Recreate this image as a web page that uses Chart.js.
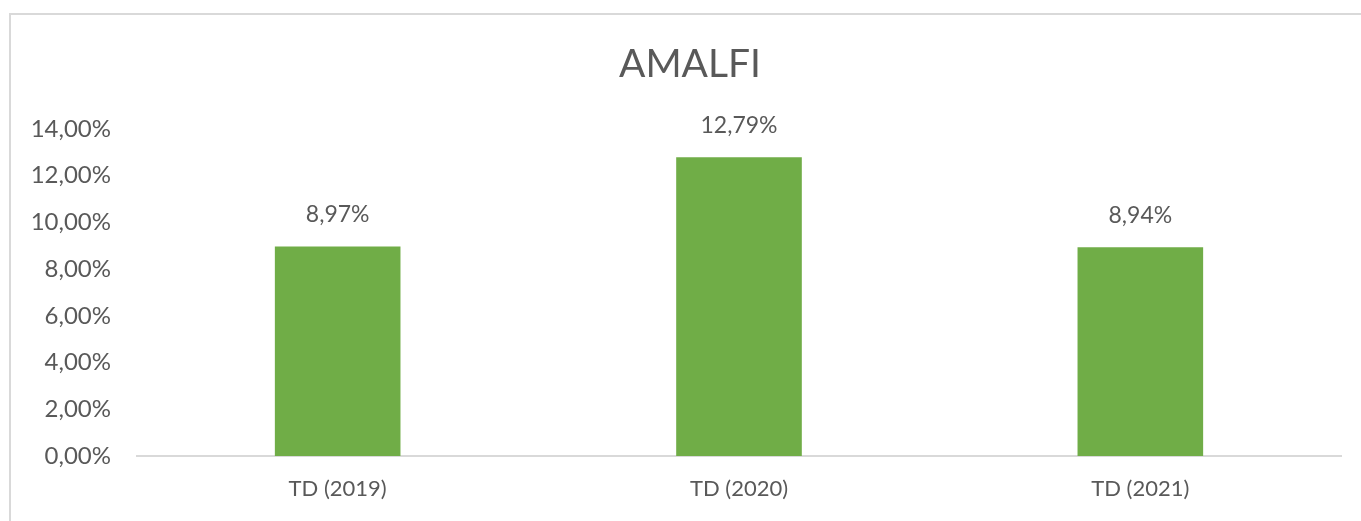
<!DOCTYPE html>
<html>
<head>
<meta charset="utf-8">
<title>AMALFI</title>
<script src="https://cdn.jsdelivr.net/npm/chart.js@4.4.1/dist/chart.umd.min.js"></script>
<style>
    html, body { margin: 0; padding: 0; background: #fff; }
    #wrap { width: 1361px; height: 521px; }
</style>
</head>
<body>
<div id="wrap"><canvas id="amalfi-bar" width="1361" height="521"></canvas></div>
<script>
// data
const categories = ['TD (2019)', 'TD (2020)', 'TD (2021)'];
const tdValues = [0.0897, 0.1279, 0.0894];
const yTicks = [0, 0.02, 0.04, 0.06, 0.08, 0.10, 0.12, 0.14];
const chartTitle = 'AMALFI';

const textColor = '#595959';
const fontFamily = 'Lato, "Open Sans", sans-serif';

// formats 0.1279 as "12,79%"
const pct = v => (v * 100).toFixed(2).replace('.', ',') + '%';

// light gray frame round the chart, cut off on the right and bottom like the picture
// plus the title, centred on the whole frame rather than the plot
const framePlugin = {
    id: 'frame',
    beforeDraw(chart) {
        const ctx = chart.ctx;
        ctx.save();
        ctx.strokeStyle = '#d9d9d9';
        ctx.lineWidth = 2;
        ctx.strokeRect(10, 14, chart.width + 20, chart.height + 20);
        ctx.fillStyle = textColor;
        ctx.font = '39px ' + fontFamily;
        ctx.textAlign = 'center';
        ctx.textBaseline = 'middle';
        ctx.fillText(chartTitle, 690, 64);
        ctx.restore();
    }
};

// value labels over each bar
const valueLabels = {
    id: 'valueLabels',
    afterDatasetsDraw(chart) {
        const ctx = chart.ctx;
        const meta = chart.getDatasetMeta(0);
        ctx.save();
        ctx.fillStyle = textColor;
        ctx.font = '23px ' + fontFamily;
        ctx.textAlign = 'center';
        ctx.textBaseline = 'middle';
        meta.data.forEach((bar, i) => {
            ctx.fillText(pct(tdValues[i]), bar.x, bar.y - 32);
        });
        ctx.restore();
    }
};

new Chart(document.getElementById('amalfi-bar').getContext('2d'), {
    type: 'bar',
    data: {
        labels: categories,
        datasets: [{
            label: 'TD',
            data: tdValues,
            backgroundColor: '#70ad47',
            categoryPercentage: 1,
            barPercentage: 0.313
        }]
    },
    options: {
        responsive: false,
        animation: false,
        layout: { padding: { top: 129, right: 20, left: 0, bottom: 0 } },
        plugins: {
            legend: { display: false },
            tooltip: { enabled: false },
            title: { display: false }
        },
        scales: {
            x: {
                grid: { display: false, drawTicks: false },
                border: { display: true, color: '#d9d9d9', width: 2 },
                ticks: {
                    color: textColor,
                    padding: 20,
                    font: { family: fontFamily, size: 22, lineHeight: 1.2 }
                },
                afterFit(scale) { scale.height = 65; }
            },
            y: {
                min: 0,
                max: 0.14,
                grid: { display: false, drawTicks: false },
                border: { display: false },
                afterBuildTicks(scale) {
                    scale.ticks = yTicks.map(v => ({ value: v }));
                },
                ticks: {
                    color: textColor,
                    padding: 26,
                    font: { family: fontFamily, size: 24 },
                    callback: v => pct(v)
                },
                afterFit(scale) { scale.width = 137; }
            }
        }
    },
    plugins: [framePlugin, valueLabels]
});
</script>
</body>
</html>
